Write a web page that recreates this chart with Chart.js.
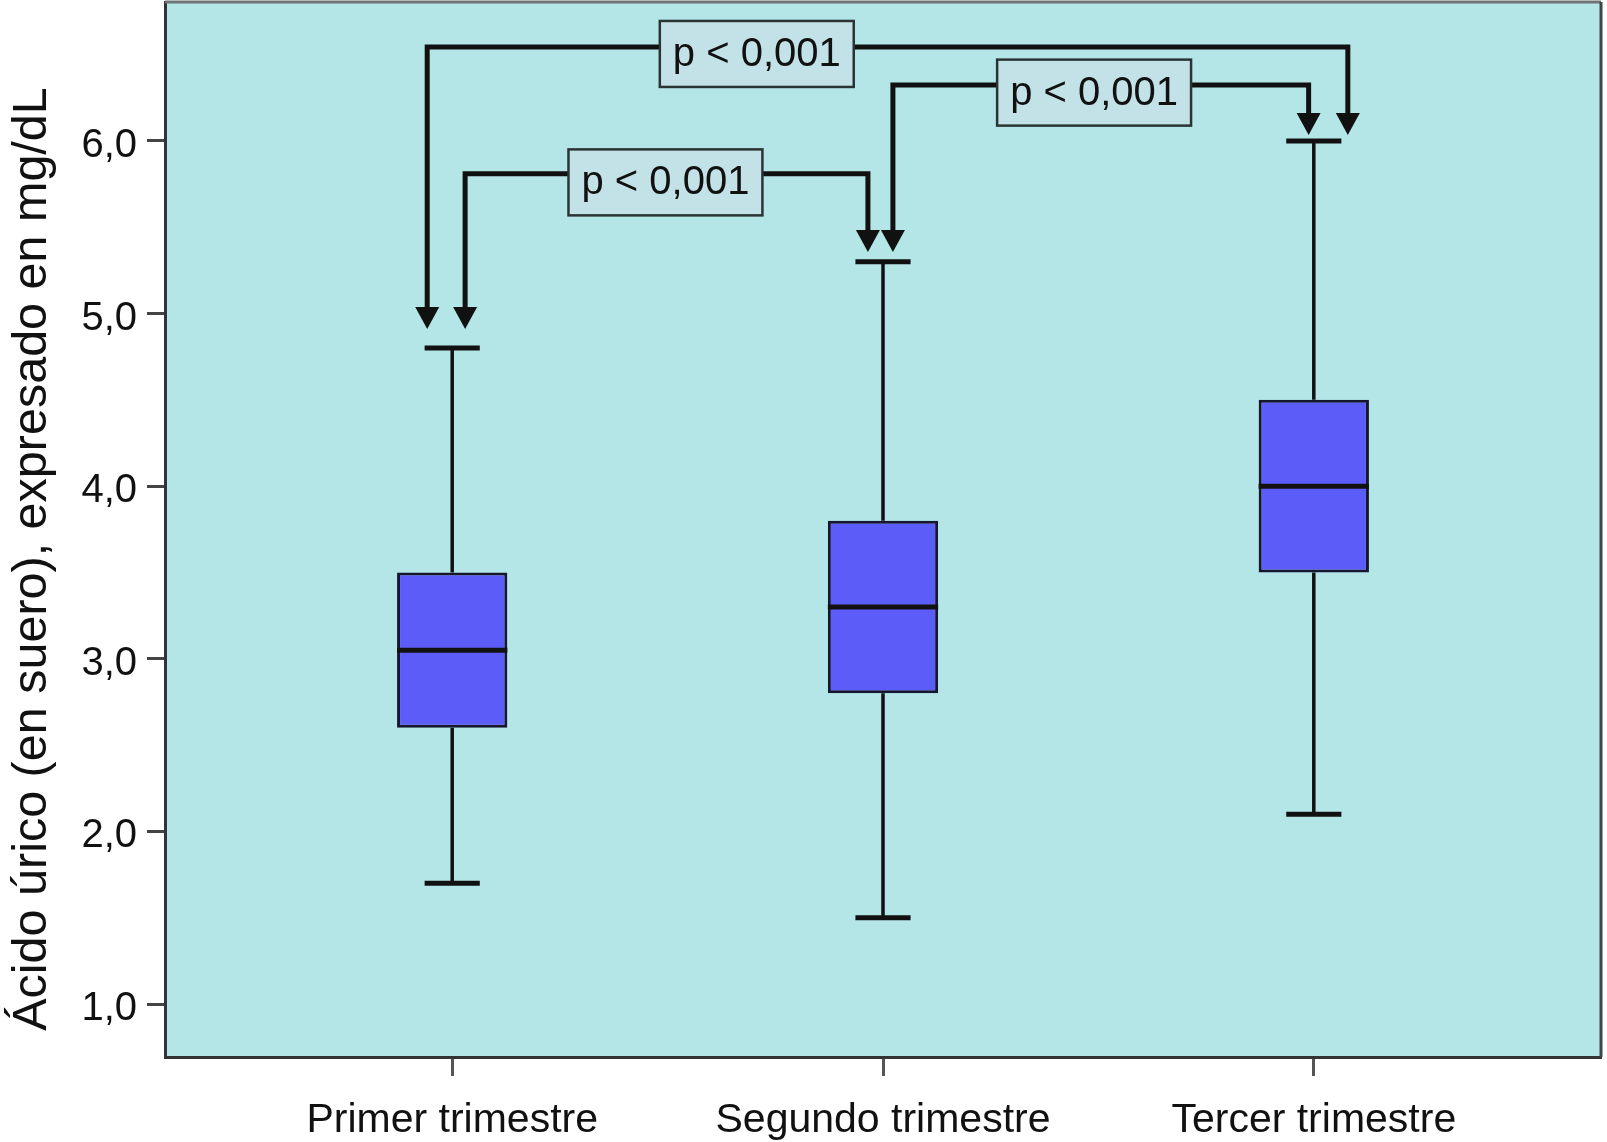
<!DOCTYPE html>
<html>
<head>
<meta charset="utf-8">
<script src="https://cdn.jsdelivr.net/npm/chart.js@4.4.1/dist/chart.umd.min.js"></script>
<style>
  html, body { margin: 0; padding: 0; background: #fff; }
  #wrap { width: 1607px; height: 1142px; }
</style>
</head>
<body>
<div id="wrap"><canvas id="chart" width="1607" height="1142"></canvas></div>
<script>
// Data
const categories = ["Primer trimestre", "Segundo trimestre", "Tercer trimestre"];
const whiskerLow = [1.7, 1.5, 2.1];
const q1 = [2.6, 2.8, 3.5];
const medians = [3.05, 3.3, 4.0];
const q3 = [3.5, 3.8, 4.5];
const whiskerHigh = [4.8, 5.3, 6.0];
const yTicks = [1, 2, 3, 4, 5, 6];
const yTitle = "Ácido úrico (en suero), expresado en mg/dL";
const pLabel = "p < 0,001";

// Comparison brackets: pair of groups, y level of the bar, arrow tip values
const brackets = [
  { from: 0, to: 1, level: 5.81, tipFrom: 4.91, tipTo: 5.357, dxFrom: 0.03, dxTo: -0.035, labelX: 0.495, labelY: 5.76 },
  { from: 1, to: 2, level: 6.324, tipFrom: 5.357, tipTo: 6.035, dxFrom: 0.023, dxTo: -0.012, labelX: 1.49, labelY: 6.28 },
  { from: 0, to: 2, level: 6.545, tipFrom: 4.91, tipTo: 6.035, dxFrom: -0.058, dxTo: 0.079, labelX: 0.707, labelY: 6.504 },
];

const FONT = "'Liberation Sans', Arial, sans-serif";

// plot background + frame
const frame = {
  id: "frame",
  beforeDraw(chart) {
    const { ctx, chartArea: a } = chart;
    ctx.save();
    ctx.fillStyle = "#b4e6e8";
    ctx.fillRect(a.left, a.top, a.right - a.left, a.bottom - a.top);
    ctx.restore();
  },
  afterDraw(chart) {
    const { ctx, chartArea: a } = chart;
    ctx.save();
    ctx.lineWidth = 3;
    ctx.strokeStyle = "#6e7474";
    ctx.beginPath();
    ctx.moveTo(a.left, a.top);
    ctx.lineTo(a.right, a.top);
    ctx.stroke();
    ctx.strokeStyle = "#3c4848";
    ctx.beginPath();
    ctx.moveTo(a.right, a.top);
    ctx.lineTo(a.right, a.bottom);
    ctx.stroke();

    // rotated y axis title
    ctx.translate(46, 559);
    ctx.rotate(-Math.PI / 2);
    ctx.fillStyle = "#111";
    ctx.font = "48.5px " + FONT;
    ctx.textAlign = "center";
    ctx.textBaseline = "alphabetic";
    ctx.fillText(yTitle, 0, 0);
    ctx.restore();
  },
};

// whiskers, caps, medians, brackets
const boxExtras = {
  id: "boxExtras",
  afterDatasetsDraw(chart) {
    const { ctx } = chart;
    const x = chart.scales.x;
    const y = chart.scales.y;
    const bars = chart.getDatasetMeta(0).data;
    ctx.save();
    ctx.strokeStyle = "#111";
    ctx.lineCap = "butt";
    categories.forEach((c, i) => {
      const cx = x.getPixelForValue(i);
      const w = bars[i].width;
      // whiskers
      ctx.lineWidth = 3.5;
      ctx.beginPath();
      ctx.moveTo(cx, y.getPixelForValue(whiskerLow[i]));
      ctx.lineTo(cx, y.getPixelForValue(q1[i]));
      ctx.moveTo(cx, y.getPixelForValue(q3[i]));
      ctx.lineTo(cx, y.getPixelForValue(whiskerHigh[i]));
      ctx.stroke();
      // caps
      ctx.lineWidth = 5;
      ctx.beginPath();
      [whiskerLow[i], whiskerHigh[i]].forEach((v) => {
        const py = y.getPixelForValue(v);
        ctx.moveTo(cx - w / 4, py);
        ctx.lineTo(cx + w / 4, py);
      });
      ctx.stroke();
      // median
      ctx.lineWidth = 5;
      ctx.beginPath();
      const my = y.getPixelForValue(medians[i]);
      ctx.moveTo(cx - w / 2, my);
      ctx.lineTo(cx + w / 2, my);
      ctx.stroke();
    });

    // brackets
    const arrowW = 24, arrowH = 22;
    brackets.forEach((b) => {
      const x1 = x.getPixelForValue(b.from + b.dxFrom);
      const x2 = x.getPixelForValue(b.to + b.dxTo);
      const ly = y.getPixelForValue(b.level);
      const t1 = y.getPixelForValue(b.tipFrom);
      const t2 = y.getPixelForValue(b.tipTo);
      ctx.lineWidth = 5;
      ctx.lineJoin = "miter";
      ctx.strokeStyle = "#111";
      ctx.beginPath();
      ctx.moveTo(x1, t1 - arrowH + 2);
      ctx.lineTo(x1, ly);
      ctx.lineTo(x2, ly);
      ctx.lineTo(x2, t2 - arrowH + 2);
      ctx.stroke();
      ctx.fillStyle = "#111";
      [[x1, t1], [x2, t2]].forEach(([ax, ay]) => {
        ctx.beginPath();
        ctx.moveTo(ax - arrowW / 2, ay - arrowH);
        ctx.lineTo(ax + arrowW / 2, ay - arrowH);
        ctx.lineTo(ax, ay);
        ctx.closePath();
        ctx.fill();
      });
      // label box
      ctx.font = "40px " + FONT;
      const tw = ctx.measureText(pLabel).width;
      const bw = tw + 26, bh = 66;
      const bx = x.getPixelForValue(b.labelX);
      const by = y.getPixelForValue(b.labelY);
      ctx.fillStyle = "#c3e2e7";
      ctx.fillRect(bx - bw / 2, by - bh / 2, bw, bh);
      ctx.lineWidth = 2.5;
      ctx.strokeStyle = "#2a3434";
      ctx.strokeRect(bx - bw / 2, by - bh / 2, bw, bh);
      ctx.fillStyle = "#111";
      ctx.textAlign = "center";
      ctx.textBaseline = "middle";
      ctx.fillText(pLabel, bx, by + 1);
    });
    ctx.restore();
  },
};

const chart = new Chart(document.getElementById("chart").getContext("2d"), {
  type: "bar",
  data: {
    datasets: [
      {
        data: categories.map((c, i) => ({ x: i, y: [q1[i], q3[i]] })),
        backgroundColor: "#5c5cf9",
        borderColor: "#16162e",
        borderWidth: 3,
        borderSkipped: false,
        barPercentage: 0.256,
        categoryPercentage: 1,
      },
    ],
  },
  options: {
    responsive: false,
    animation: false,
    devicePixelRatio: 1,
    layout: { padding: { top: 2, right: 6, left: 0, bottom: 0 } },
    plugins: { legend: { display: false }, tooltip: { enabled: false } },
    scales: {
      x: {
        type: "linear",
        min: -2 / 3,
        max: 8 / 3,
        offset: false,
        afterBuildTicks: (s) => { s.ticks = categories.map((c, i) => ({ value: i })); },
        afterFit: (s) => { s.height = 85; s.paddingLeft = 0; s.paddingRight = 0; },
        grid: { offset: false, drawOnChartArea: false, drawTicks: true, tickLength: 19, tickColor: "#555", tickWidth: 3 },
        border: { display: true, color: "#333", width: 3 },
        ticks: {
          font: { size: 41, family: FONT },
          color: "#111",
          padding: 20,
          maxRotation: 0,
          autoSkip: false,
          callback: (v) => categories[v],
        },
      },
      y: {
        min: 0.693,
        max: 6.805,
        afterBuildTicks: (s) => { s.ticks = yTicks.map((v) => ({ value: v })); },
        afterFit: (s) => { s.width = 165; s.paddingTop = 0; s.paddingBottom = 0; },
        grid: { drawOnChartArea: false, drawTicks: true, tickLength: 18, tickColor: "#444", tickWidth: 3 },
        border: { display: true, color: "#333", width: 3 },
        ticks: {
          font: { size: 40, family: FONT },
          color: "#111",
          padding: 10,
          labelOffset: 5,
          callback: (v) => v.toFixed(1).replace(".", ","),
        },
      },
    },
  },
  plugins: [frame, boxExtras],
});
</script>
</body>
</html>
